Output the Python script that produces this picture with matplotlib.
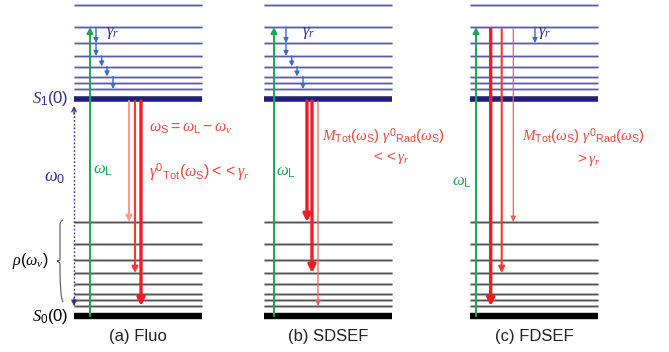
import matplotlib.pyplot as plt
from matplotlib.path import Path
from matplotlib.patches import PathPatch

plt.rcParams['font.family'] = ['Liberation Sans', 'DejaVu Sans']
plt.rcParams['mathtext.fontset'] = 'custom'
plt.rcParams['mathtext.rm'] = 'Liberation Sans'
plt.rcParams['mathtext.it'] = 'Liberation Serif:italic'
plt.rcParams['mathtext.bf'] = 'Liberation Sans:bold'

# energies (arbitrary units), S0(0) = 0
vib_levels = [10, 16, 22.5, 32.5, 43, 56, 72, 94]   # same ladder in S0 and S1
e_s1 = 217
e_pump = e_s1 + 72                                   # level reached by the laser

panel_labels = ["(a) Fluo", "(b) SDSEF", "(c) FDSEF"]
panel_x0 = [74, 264, 470]
panel_w = 128

green_x = [16, 10, 6]
# red emission arrows per panel: (x offset, start energy, final vib level, style)
red_arrows = [
    [(55, e_s1, 94, "light"), (61, e_s1, 43, "mid"), (67, e_s1, 10, "thick")],
    [(43, e_s1, 94, "thick"), (48, e_s1, 43, "thick"), (54, e_s1, 10, "thin")],
    [(20.7, e_pump, 10, "thick"), (31.7, e_pump, 43, "mid"), (43.3, e_pump, 94, "thin")],
]
# relaxation cascade in S1: (x offset, from vib, to vib)
cascade = [(22, 72, 56), (22, 56, 43), (27.7, 43, 32.5), (33, 32.5, 22.5), (39, 22.5, 10)]
cascade_c = [(65, 72, 56)]

red_styles = {
    "light": dict(color="#f5a08c", lw=1.5, ms=9),
    "mid": dict(color="#f03a32", lw=1.5, ms=9),
    "thick": dict(color="#ee1c24", lw=2.4, ms=11),
    "thin": dict(color="#f2605a", lw=0.9, ms=8),
}

navy = "#2e3192"
red_txt = "#f0453c"
green = "#1da453"
blue = "#3a6fc0"

fig = plt.figure(figsize=(6.69, 3.52), dpi=100)
ax = fig.add_axes([0, 0, 1, 1])
ax.set_xlim(0, 669)
ax.set_ylim(-36, 316)
ax.axis("off")


def arrow(x, y0, y1, color, lw, ms=9):
    ax.annotate("", xy=(x, y1), xytext=(x, y0),
                arrowprops=dict(arrowstyle="-|>", color=color, lw=lw,
                                mutation_scale=ms, shrinkA=0, shrinkB=0))


for i, x0 in enumerate(panel_x0):
    x1 = x0 + panel_w
    # S1 manifold
    for v in vib_levels:
        ax.plot([x0, x1], [e_s1 + v, e_s1 + v], color="#c9c9e6", lw=2.2,
                solid_capstyle="butt")
        ax.plot([x0, x1], [e_s1 + v, e_s1 + v], color="#5a5aa6", lw=0.9,
                solid_capstyle="butt")
    ax.plot([x0, x1], [e_s1, e_s1], color="#1f1f78", lw=4.0, solid_capstyle="butt")
    # S0 manifold
    for v in vib_levels:
        ax.plot([x0, x1], [v, v], color="#b4b4b4", lw=2.0, solid_capstyle="butt")
        ax.plot([x0, x1], [v, v], color="#555555", lw=0.9, solid_capstyle="butt")
    ax.plot([x0, x1], [0, 0], color="black", lw=4.6, solid_capstyle="butt")

    # laser excitation
    arrow(x0 + green_x[i], 0, e_pump, green, 1.4, 9)

    # emission
    for dx, ys, vt, st in red_arrows[i]:
        s = red_styles[st]
        arrow(x0 + dx, ys - 2, vt, s["color"], s["lw"], s["ms"])

    # relaxation
    for dx, va, vb in (cascade if i < 2 else cascade_c):
        arrow(x0 + dx, e_s1 + va, e_s1 + vb, blue, 1.0, 7)

    ax.text(x0 + panel_w / 2, -21, panel_labels[i], ha="center", va="center",
            fontsize=12, color="#222222")

# gamma_r labels
for xg in (106, 302, 538):
    ax.text(xg, 283, r"$\gamma_r$", color=navy, fontsize=12, ha="left", va="center")

# state labels
ax.text(68, e_s1, r"$S_1$(0)", color=navy, fontsize=12, ha="right", va="center")
ax.text(68, 0, r"$S_0$(0)", color="black", fontsize=12, ha="right", va="center")

# omega_0 double arrow (dotted)
xd = panel_x0[0]
ax.plot([xd, xd], [11, e_s1 - 8], color=navy, lw=1.0, ls=(0, (1.2, 1.5)))
arrow(xd, 18, 10, navy, 0.9, 8)
ax.annotate("", xy=(xd, e_s1 - 7), xytext=(xd, e_s1 - 15),
            arrowprops=dict(arrowstyle="->", color=navy, lw=0.9,
                            mutation_scale=8, shrinkA=0, shrinkB=0))
ax.text(55, 138, r"$\omega_0$", color=navy, fontsize=13, ha="center", va="center")

# brace for rho(omega_v)
bx = 60
yt, yb = vib_levels[-1], vib_levels[1]
ym = (yt + yb) / 2
verts = [(bx + 3, yt + 2), (bx, yt + 1), (bx, yt - 3), (bx, ym + 8),
         (bx, ym + 3), (bx, ym + 1), (bx - 3, ym),
         (bx, ym - 1), (bx, ym - 3), (bx, ym - 8),
         (bx, yb + 3), (bx + 3, yb - 2)]
codes = [Path.MOVETO, Path.CURVE3, Path.CURVE3, Path.LINETO,
         Path.CURVE3, Path.CURVE3, Path.LINETO,
         Path.CURVE3, Path.CURVE3, Path.LINETO,
         Path.CURVE3, Path.CURVE3]
ax.add_patch(PathPatch(Path(verts, codes), fc="none", ec="#555555", lw=0.8))
ax.text(48, ym, r"$\rho(\omega_v)$", color="black", fontsize=11.5, ha="right", va="center")

# omega_L labels
ax.text(93, 146, r"$\omega_\mathrm{L}$", color=green, fontsize=12, ha="left", va="center")
ax.text(276, 143, r"$\omega_\mathrm{L}$", color=green, fontsize=12, ha="left", va="center")
ax.text(452, 133, r"$\omega_\mathrm{L}$", color=green, fontsize=12, ha="left", va="center")

# red annotations
ax.text(149, 187, r"$\omega_\mathrm{S}=\omega_\mathrm{L}-\omega_v$", color=red_txt,
        fontsize=11.5, ha="left", va="center")
ax.text(149, 144, r"$\gamma^0{}_\mathrm{Tot}(\omega_\mathrm{S})<<\gamma_r$",
        color=red_txt, fontsize=11.5, ha="left", va="center")
ax.text(322, 179, r"$M_\mathrm{Tot}(\omega_\mathrm{S})\ \gamma^0{}_\mathrm{Rad}(\omega_\mathrm{S})$",
        color=red_txt, fontsize=11, ha="left", va="center")
ax.text(390, 158, r"$<<\gamma_r$", color=red_txt, fontsize=11,
        ha="center", va="center")
ax.text(522, 179, r"$M_\mathrm{Tot}(\omega_\mathrm{S})\ \gamma^0{}_\mathrm{Rad}(\omega_\mathrm{S})$",
        color=red_txt, fontsize=11, ha="left", va="center")
ax.text(588, 156, r"$>\gamma_r$", color=red_txt, fontsize=11,
        ha="center", va="center")

fig.savefig("out.png", dpi=100)
